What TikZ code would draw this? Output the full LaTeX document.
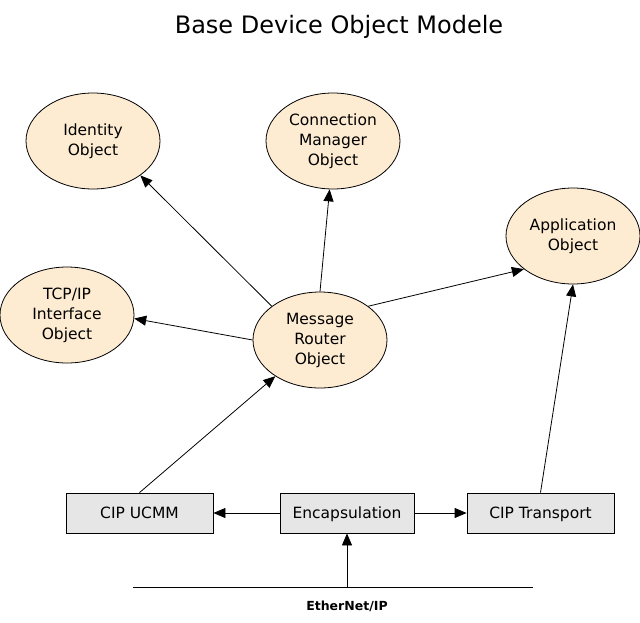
\documentclass[tikz,border=0pt]{standalone}
\usepackage{fontspec}
\setmainfont{DejaVu Sans}
\usetikzlibrary{shapes.geometric,arrows.meta}

\definecolor{objfill}{RGB}{253,236,210}
\definecolor{boxfill}{RGB}{230,230,230}

\tikzset{
  object/.style={draw,ellipse,fill=objfill,line width=0.8pt,minimum width=134pt,
    minimum height=96pt,inner sep=0pt,align=center,font=\fontsize{15.5}{20}\selectfont},
  layer/.style={draw,rectangle,fill=boxfill,line width=0.8pt,minimum height=40pt,
    inner sep=0pt,text height=11.5pt,text depth=0pt,font=\fontsize{15.5}{20}\selectfont},
  link/.style={-{Triangle[length=12pt,width=10pt]},line width=0.8pt}
}

\begin{document}
\begin{tikzpicture}[x=1pt,y=-1pt]
  \useasboundingbox (0,0) rectangle (640,622);
  \node[font=\fontsize{24}{28}\selectfont] (title) at (339,27) {Base Device Object Modele};
  % objects
  \node[object] (id) at (93,141) {Identity\\Object};
  \node[object] (cm) at (333,141) {Connection\\Manager\\Object};
  \node[object] (app) at (573,236) {Application\\Object};
  \node[object] (tcp) at (67,315) {TCP/IP\\Interface\\Object};
  \node[object] (mr) at (320,340) {Message\\Router\\Object};
  % lower layers
  \node[layer,minimum width=147pt] (ucmm) at (139.5,513) {CIP UCMM};
  \node[layer,minimum width=134pt] (encap) at (347,513) {Encapsulation};
  \node[layer,minimum width=147pt] (trans) at (540.5,513) {CIP Transport};
  \coordinate (busl) at (133,587);
  \coordinate (busr) at (533,587);
  \coordinate (tap) at (347,587);
  \node[font=\bfseries\fontsize{12.5}{15}\selectfont] (net) at (347,606) {EtherNet/IP};
  % connectors
  \draw[link] (mr.145) -- (id.324);
  \draw[link] (mr.north) -- (cm.266);
  \draw[link] (mr.35) -- (app.214);
  \draw[link] (mr.west) -- (tcp.357);
  \draw[link] (ucmm.north) -- (mr.219);
  \draw[link] (trans.north) -- (app.south);
  \draw[link] (encap.west) -- (ucmm.east);
  \draw[link] (encap.east) -- (trans.west);
  \draw[line width=0.8pt] (busl) -- (busr);
  \draw[link] (tap) -- (encap.south);
\end{tikzpicture}
\end{document}
